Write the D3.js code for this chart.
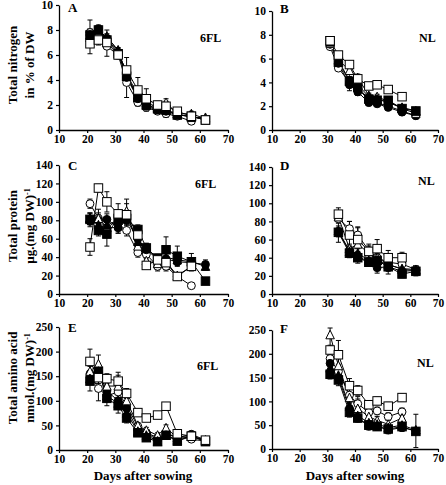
<!DOCTYPE html>
<html><head><meta charset="utf-8">
<script src="https://cdn.jsdelivr.net/npm/d3@7/dist/d3.min.js"></script>
<style>
html,body{margin:0;padding:0;background:#fff;}
svg{display:block;}
text{font-family:"Liberation Serif","Times New Roman",serif;font-weight:bold;fill:#000;}
</style></head>
<body><svg id="chart" width="446" height="485"></svg>
<script>
// ---------- DATA ----------
const days6FL = [21,24,27,31,34,38,41,45,48,52,57,62];
const daysNL = [31,34,38,41,45,48,52,57,62];
const daysNLprotein = [34,38,41,45,48,52,57,62];
// series order: open circle, filled circle, open triangle, filled triangle, filled square, open square
const seriesMarkers = ["circleOpen","circleFilled","triangleOpen","triangleFilled","squareFilled","squareOpen"];

const nitrogen6FL = [
  [7.8,7.6,6.7,6.0,3.8,2.2,1.8,1.5,1.3,1.1,0.7,null],
  [7.6,8.1,7.3,6.2,4.2,2.5,1.9,1.6,1.5,1.2,1.1,0.8],
  [7.6,7.8,7.5,6.3,4.5,2.8,2.2,1.8,2.2,1.3,1.0,1.0],
  [7.4,8.0,7.4,6.4,4.4,2.6,2.0,1.7,1.6,1.3,1.3,0.9],
  [7.6,8.0,7.2,6.1,4.3,2.6,2.0,1.7,1.6,1.2,1.1,0.8],
  [6.9,7.2,7.0,6.0,4.8,3.2,2.5,2.0,1.9,1.5,1.1,0.8]
];
const nitrogen6FLErr = [
  [1.0,0.4,0.8,0.3,1.2,0.3,0.3,0.2,0.3,0.2,0.2,0],
  [0.4,0.3,0.3,0.2,0.4,0.3,0.2,0.2,0.2,0.2,0.3,0],
  [0.5,0.3,0.5,0.2,0.5,0.3,0.3,0.2,0.3,0.2,0.2,0.1],
  [0.3,0.2,0.3,0.2,0.3,0.2,0.2,0.2,0.2,0.2,0.2,0],
  [0.3,0.2,0.3,0.2,0.3,0.2,0.2,0.2,0.2,0.2,0.2,0],
  [0.8,0.4,0.4,0.3,1.0,1.0,0.8,0.3,0.4,0.3,0.2,0]
];
const nitrogenNL = [
  [7.0,5.2,4.0,3.5,2.5,2.3,2.0,1.6,1.2],
  [7.2,5.6,3.8,3.2,2.3,2.2,1.9,1.5,1.2],
  [7.3,5.9,5.0,4.4,2.9,2.8,2.4,1.8,1.4],
  [7.4,5.8,4.2,3.8,2.8,2.6,2.3,1.9,1.6],
  [7.5,5.7,4.1,3.6,2.6,2.5,2.5,1.8,1.6],
  [7.5,6.3,5.5,4.3,3.7,3.8,3.4,2.8,null]
];
const nitrogenNLErr = [
  [0.2,0.2,0.4,0.3,0.2,0.2,0.2,0.2,0.1],
  [0.2,0.2,0.5,0.3,0.2,0.2,0.2,0.2,0.1],
  [0.2,0.3,0.3,0.3,0.2,0.2,0.2,0.2,0.1],
  [0.2,0.2,0.3,0.4,0.2,0.2,0.2,0.2,0.1],
  [0.2,0.2,0.3,0.3,0.2,0.2,0.2,0.2,0.1],
  [0.2,0.2,0.2,0.2,0.2,0.2,0.2,0.2,0]
];
const protein6FL = [
  [98,82,72,72,69,45,43,30,30,19,9,null],
  [79,80,81,72,80,60,48,38,38,35,34,32],
  [82,82,72,80,90,52,36,33,35,20,30,null],
  [82,75,75,80,85,57,50,38,40,37,35,30],
  [81,69,65,82,82,70,50,39,48,41,35,14],
  [51,115,100,87,86,64,31,37,34,19,30,null]
];
const protein6FLErr = [
  [5,6,6,6,6,5,5,5,5,3,2,0],
  [6,6,6,6,6,5,5,4,4,4,4,5],
  [6,10,8,8,8,5,5,4,5,3,5,0],
  [6,6,6,6,6,5,5,4,4,4,4,4],
  [6,6,13,6,6,5,5,4,14,11,9,3],
  [9,4,11,11,17,5,3,4,4,3,4,0]
];
const proteinNL = [
  [83,72,65,48,40,35,33,27],
  [68,48,42,35,29,30,25,26],
  [85,50,55,45,40,33,27,26],
  [70,47,45,37,37,32,28,27],
  [68,45,40,35,37,30,22,25],
  [88,65,60,47,50,40,40,null]
];
const proteinNLErr = [
  [5,8,8,5,5,5,5,4],
  [5,5,5,4,6,5,4,5],
  [5,5,5,5,5,5,4,4],
  [5,5,5,4,5,5,4,4],
  [11,5,6,4,5,8,4,5],
  [7,15,14,8,10,8,6,0]
];
const amino6FL = [
  [155,125,110,118,90,48,35,25,30,30,22,18],
  [150,158,120,100,85,40,35,20,33,25,32,20],
  [160,175,130,130,100,50,40,30,45,25,28,20],
  [145,160,110,95,75,38,30,18,30,20,28,18],
  [140,160,105,90,65,35,25,17,30,18,28,17],
  [180,147,145,140,115,76,65,71,89,33,28,20]
];
const amino6FLErr = [
  [15,25,12,15,10,6,6,5,5,5,4,3],
  [12,12,12,12,10,6,6,4,5,5,4,3],
  [12,18,15,28,12,6,6,5,6,5,4,3],
  [12,12,12,12,10,6,6,4,5,4,4,3],
  [20,12,15,15,10,6,6,4,5,4,4,3],
  [25,12,10,12,10,6,6,5,6,5,4,3]
];
const aminoNL = [
  [190,163,113,95,77,80,68,78,null],
  [180,150,85,65,48,48,40,45,38],
  [240,175,108,85,68,60,52,65,null],
  [170,155,90,70,55,52,45,50,40],
  [157,145,77,65,50,47,42,47,37],
  [208,198,133,123,93,101,90,108,null]
];
const aminoNLErr = [
  [15,15,15,10,8,8,8,8,0],
  [10,10,10,8,8,8,8,8,35],
  [25,20,25,25,10,8,8,8,0],
  [10,10,10,8,8,8,8,8,5],
  [10,12,10,8,8,8,8,8,5],
  [10,30,15,10,8,8,8,8,0]
];
const xTicks = [10,20,30,40,50,60,70];
const nitrogenTicks = [0,2,4,6,8,10];
const proteinTicks = [0,20,40,60,80,100,120,140];
const aminoTicks = [0,50,100,150,200,250];
const panelLetters = ["A","B","C","D","E","F"];
const conditionLabels = ["6FL","NL"];
const yTitles = [["Total nitrogen","in % of DW"],["Total protein","µg.(mg DW)"],["Total amino acid","nmol.(mg DW)"]];
const xTitle = "Days after sowing";

// ---------- LAYOUT ----------
const svg = d3.select("#chart");
const panels = [
  {letter:0, cond:0, days:days6FL, vals:nitrogen6FL, err:nitrogen6FLErr, ticks:nitrogenTicks, x0:59, x1:228, yT:5, yB:130, lx:68, ly:12, cx:200, cy:42},
  {letter:1, cond:1, days:daysNL, vals:nitrogenNL, err:nitrogenNLErr, ticks:nitrogenTicks, x0:272, x1:438, yT:11, yB:130, lx:280, ly:13, cx:419, cy:42},
  {letter:2, cond:0, days:days6FL, vals:protein6FL, err:protein6FLErr, ticks:proteinTicks, x0:59, x1:228, yT:165, yB:294, lx:68, ly:170, cx:195, cy:188},
  {letter:3, cond:1, days:daysNLprotein, vals:proteinNL, err:proteinNLErr, ticks:proteinTicks, x0:272, x1:438, yT:167, yB:294, lx:280, ly:170, cx:418, cy:185},
  {letter:4, cond:0, days:days6FL, vals:amino6FL, err:amino6FLErr, ticks:aminoTicks, x0:59, x1:228, yT:327, yB:450, lx:68, ly:332, cx:197, cy:370},
  {letter:5, cond:1, days:daysNL, vals:aminoNL, err:aminoNLErr, ticks:aminoTicks, x0:272, x1:438, yT:330, yB:449, lx:280, ly:333, cx:417, cy:367}
];

const ms = 8.5; // marker size
function drawMarker(g, type, cx, cy){
  const filled = type.indexOf("Filled")>=0;
  const fill = filled ? "#000" : "#fff";
  let m;
  if(type.startsWith("circle")){
    m = g.append("circle").attr("cx",cx).attr("cy",cy).attr("r",ms/2-0.3);
  } else if(type.startsWith("square")){
    m = g.append("rect").attr("x",cx-ms/2).attr("y",cy-ms/2).attr("width",ms).attr("height",ms);
  } else {
    const h = ms*0.95, w = ms;
    m = g.append("path").attr("d",`M${cx},${cy-h/2-0.5}L${cx+w/2},${cy+h/2}L${cx-w/2},${cy+h/2}Z`);
  }
  m.attr("fill",fill).attr("stroke","#000").attr("stroke-width",1);
}

panels.forEach(p=>{
  const x = d3.scaleLinear().domain([10,70]).range([p.x0,p.x1]);
  const y = d3.scaleLinear().domain([0,p.ticks[p.ticks.length-1]]).range([p.yB,p.yT]);
  const g = svg.append("g");

  const xa = g.append("g").attr("transform",`translate(0,${p.yB})`)
    .call(d3.axisBottom(x).tickValues(xTicks).tickSize(3).tickSizeOuter(0).tickPadding(2));
  const ya = g.append("g").attr("transform",`translate(${p.x0},0)`)
    .call(d3.axisLeft(y).tickValues(p.ticks).tickSize(3).tickSizeOuter(0).tickPadding(3));
  [xa,ya].forEach(a=>{
    a.select(".domain").attr("stroke","#000").attr("stroke-width",1.3);
    a.selectAll(".tick line").attr("stroke","#000").attr("stroke-width",1.2);
    a.selectAll(".tick text").style("font-family",'"Liberation Serif",serif').style("font-weight","bold").style("font-size","11.5px").attr("fill","#000");
  });

  // error bars
  p.vals.forEach((s,si)=>{
    s.forEach((v,i)=>{
      if(v==null) return;
      const e = p.err[si][i];
      if(!e) return;
      const cx = x(p.days[i]);
      const top = Math.max(y(v+e), p.yT-2), bot = Math.min(y(v-e), p.yB);
      g.append("line").attr("x1",cx).attr("x2",cx).attr("y1",top).attr("y2",bot).attr("stroke","#000").attr("stroke-width",1);
      g.append("line").attr("x1",cx-2.5).attr("x2",cx+2.5).attr("y1",top).attr("y2",top).attr("stroke","#000").attr("stroke-width",1);
      g.append("line").attr("x1",cx-2.5).attr("x2",cx+2.5).attr("y1",bot).attr("y2",bot).attr("stroke","#000").attr("stroke-width",1);
    });
  });
  // lines
  p.vals.forEach(s=>{
    const pts = s.map((v,i)=>[p.days[i],v]).filter(d=>d[1]!=null);
    g.append("path").attr("d",d3.line().x(d=>x(d[0])).y(d=>y(d[1]))(pts))
      .attr("fill","none").attr("stroke","#000").attr("stroke-width",1);
  });
  // markers
  p.vals.forEach((s,si)=>{
    s.forEach((v,i)=>{ if(v!=null) drawMarker(g, seriesMarkers[si], x(p.days[i]), y(v)); });
  });

  g.append("text").attr("x",p.lx).attr("y",p.ly).style("font-size","13px").text(panelLetters[p.letter]);
  g.append("text").attr("x",p.cx).attr("y",p.cy).style("font-size","12px").text(conditionLabels[p.cond]);
});

// y titles
const titleCenters = [65, 226, 378];
yTitles.forEach((t,i)=>{
  const cy = titleCenters[i];
  svg.append("text").attr("transform",`translate(17,${cy}) rotate(-90)`).attr("text-anchor","middle")
    .style("font-size","13px").text(t[0]);
  const t2 = svg.append("text").attr("transform",`translate(34,${cy}) rotate(-90)`).attr("text-anchor","middle")
    .style("font-size","13px").text(t[1]);
  if(i>0) t2.append("tspan").attr("dy","-4").style("font-size","8px").text("-1");
});
// x titles
[143, 355].forEach(cx=>{
  svg.append("text").attr("x",cx).attr("y",480).attr("text-anchor","middle").style("font-size","13px").text(xTitle);
});
</script>
</body></html>
